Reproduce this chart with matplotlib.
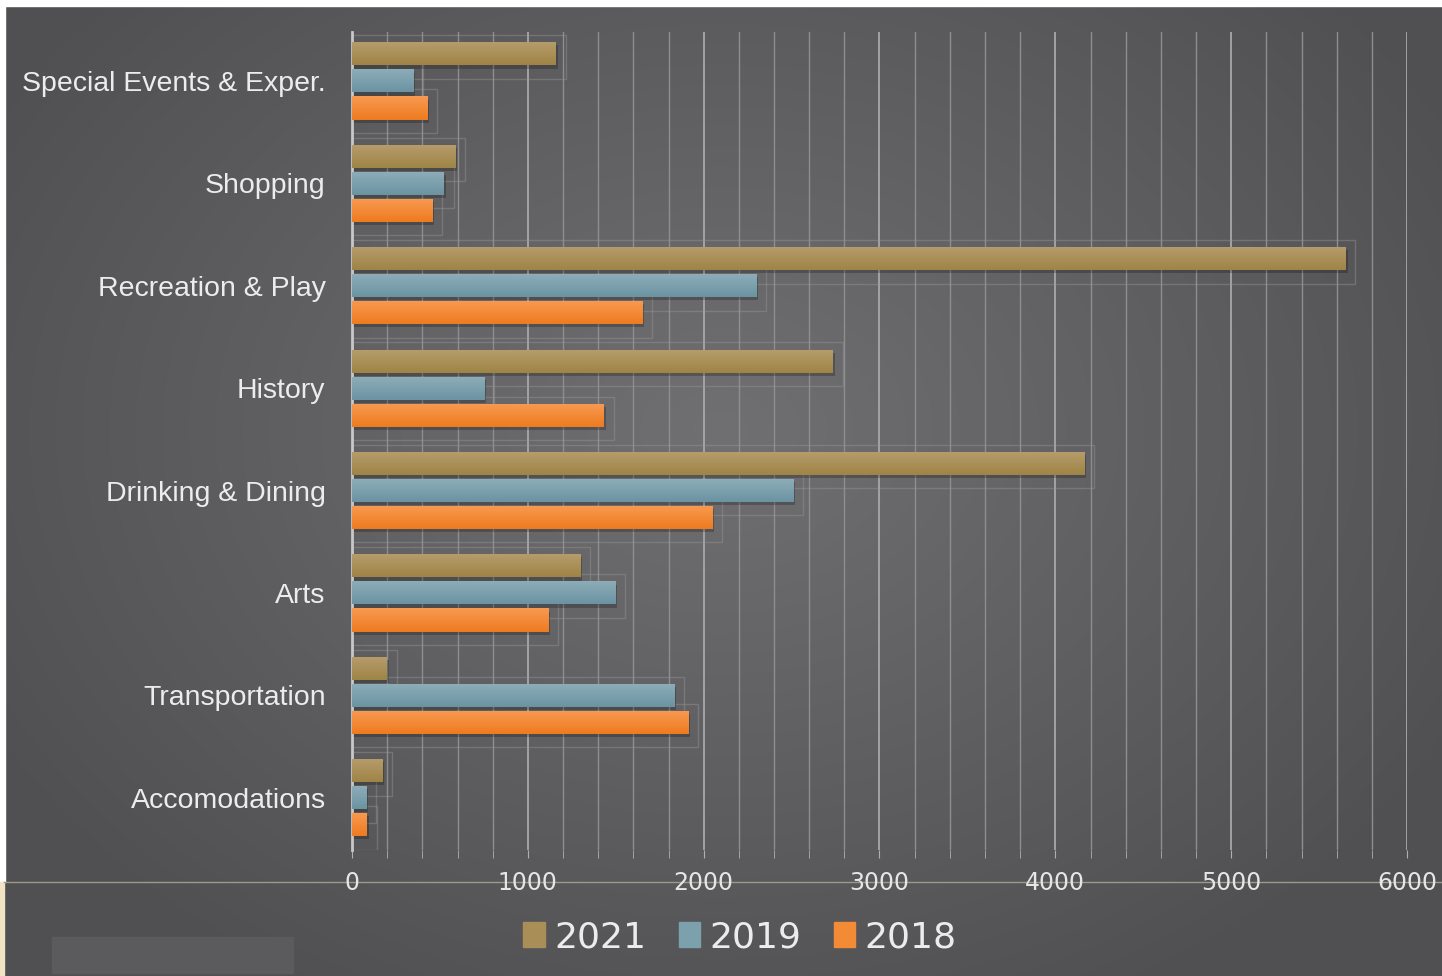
import numpy as np
import matplotlib.pyplot as plt
from matplotlib.patches import Patch, Rectangle

# Data
categories = ['Special Events & Exper.', 'Shopping', 'Recreation & Play', 'History',
              'Drinking & Dining', 'Arts', 'Transportation', 'Accomodations']
y2021 = [1160, 586, 5650, 2735, 4165, 1297, 199, 171]
y2019 = [347, 523, 2298, 751, 2509, 1496, 1832, 80]
y2018 = [427, 455, 1650, 1433, 2048, 1115, 1911, 85]
years = ['2021', '2019', '2018']

# (top, bottom) gradient colours per series
colors = {
    '2021': ('#b69d6c', '#9f8446'),
    '2019': ('#8eaeb9', '#6b93a2'),
    '2018': ('#f89a52', '#ee7b1f'),
}
solid = {'2021': '#a98f57', '2019': '#7da0ad', '2018': '#f38a35'}

fig = plt.figure(figsize=(14.42, 9.76), dpi=100)

# background: radial grey gradient
bg = fig.add_axes([0, 0, 1, 1], zorder=-10)
yy, xx = np.mgrid[0:976, 0:1442]
r = np.sqrt(((xx - 720) / 850.0) ** 2 + ((yy - 430) / 650.0) ** 2)
r = np.clip(r, 0, 1)
c0 = np.array([0x70, 0x70, 0x73]) / 255.0
c1 = np.array([0x50, 0x50, 0x52]) / 255.0
img = c0[None, None, :] * (1 - r[..., None]) + c1[None, None, :] * r[..., None]
bg.imshow(img, extent=[0, 1442, 976, 0], aspect='auto')
bg.add_patch(Rectangle((0, 0), 1442, 6, color='white'))
bg.add_patch(Rectangle((0, 0), 5, 882, color='white'))
bg.add_patch(Rectangle((0, 882), 4, 94, color='#f1e3c4'))
bg.add_patch(Rectangle((52, 937), 241, 36, color='#5b5b5d'))
bg.plot([4, 1442], [882, 882], color='#9c9a88', lw=1)
bg.set_xlim(0, 1442)
bg.set_ylim(976, 0)
bg.axis('off')

ax = fig.add_axes([352 / 1442, 1 - 850 / 976, (1407 - 352) / 1442, (850 - 32) / 976])
ax.patch.set_alpha(0)

pos = np.arange(len(categories))
h = 0.225
step = 0.264
series = [y2021, y2019, y2018]
offsets = [-step, 0, step]

for yr, vals, off in zip(years, series, offsets):
    top, bot = colors[yr]
    grad = np.linspace(0, 1, 50)[:, None]
    ct = np.array(plt.matplotlib.colors.to_rgb(top))
    cb = np.array(plt.matplotlib.colors.to_rgb(bot))
    gimg = ct[None, None, :] * (1 - grad[..., None]) + cb[None, None, :] * grad[..., None]
    # soft shadow
    ax.barh(pos + off + 0.03, [v + 12 for v in vals], height=h, color='black',
            alpha=0.22, zorder=2)
    bars = ax.barh(pos + off, vals, height=h, color=solid[yr], zorder=3)
    for b in bars:
        x0, y0 = b.get_x(), b.get_y()
        w, hh = b.get_width(), b.get_height()
        im = ax.imshow(gimg, extent=[x0, x0 + w, y0 + hh, y0], aspect='auto', zorder=4)
        im.set_clip_path(b)
        # faint reflection box around bar
        ax.add_patch(Rectangle((0, y0 - 0.07), w + 55, hh + 0.2, fill=False,
                               ec='#9a9a9c', lw=1, alpha=0.4, zorder=1))

ax.set_xlim(0, 6000)
ax.set_ylim(7.51, -0.478)
ax.set_xticks(range(0, 6001, 1000))
ax.set_xticks(range(0, 6001, 200), minor=True)
ax.grid(which='minor', axis='x', color='#8e8e90', lw=1, zorder=0)
ax.grid(which='major', axis='x', color='#a8a8aa', lw=1.3, zorder=0)
ax.set_axisbelow(True)
ax.set_yticks(pos)
ax.set_yticklabels(categories, fontsize=20.5, color='#ececec', family='Liberation Sans')
ax.tick_params(axis='y', length=0, pad=19)
ax.tick_params(axis='x', which='both', length=6, color='#b0b0b0', labelsize=17,
               labelcolor='#e6e6e6', pad=9)
for s in ['top', 'right', 'bottom']:
    ax.spines[s].set_visible(False)
ax.spines['left'].set_color('#c8c8c8')
ax.spines['left'].set_linewidth(2)

handles = [Patch(color=solid[yr]) for yr in years]
leg = fig.legend(handles, years, loc='center', bbox_to_anchor=(740 / 1442, 1 - 937 / 976),
                 ncol=3, frameon=False, fontsize=26, handlelength=0.6, handleheight=0.7,
                 handletextpad=0.25, columnspacing=0.9)
for t in leg.get_texts():
    t.set_color('#ececec')

fig.savefig('out.png', dpi=100)
